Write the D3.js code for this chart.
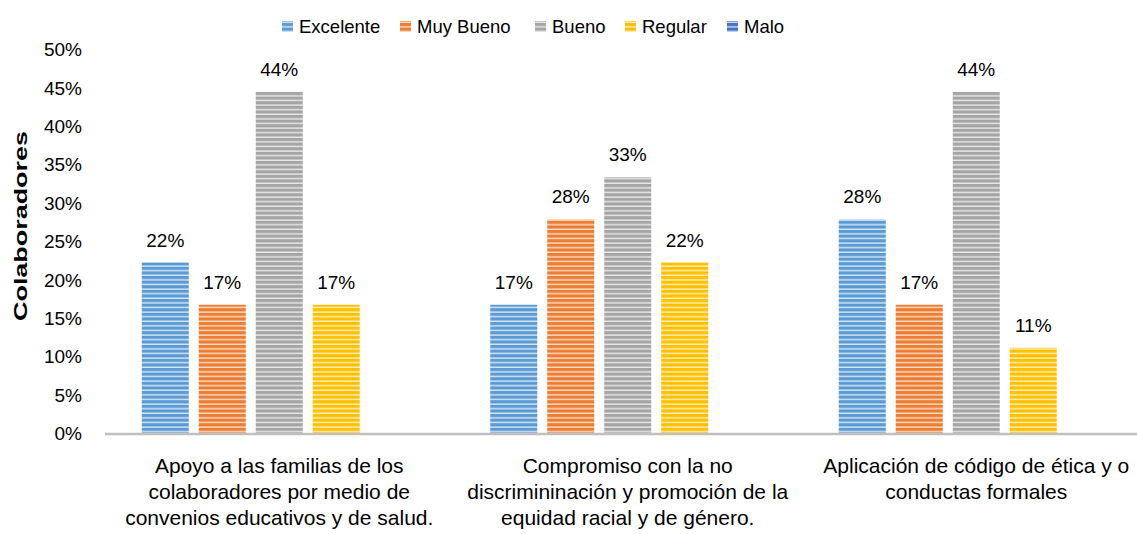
<!DOCTYPE html>
<html>
<head>
<meta charset="utf-8">
<script src="https://cdn.jsdelivr.net/npm/d3@7"></script>
<style>
  body { margin: 0; background: #fff; }
  text { font-family: "Liberation Sans", Arial, sans-serif; fill: #000; }
</style>
</head>
<body>
<div id="chart"></div>
<script>
// Data
var categories = [
  ["Apoyo a las familias de los", "colaboradores por medio de", "convenios educativos y de salud."],
  ["Compromiso con la no", "discrimininación y promoción de la", "equidad racial y de género."],
  ["Aplicación de código de ética y o", "conductas formales"]
];
var seriesNames = ["Excelente", "Muy Bueno", "Bueno", "Regular", "Malo"];
var excelente = [22.2, 16.7, 27.8];
var muyBueno = [16.7, 27.8, 16.7];
var bueno = [44.4, 33.3, 44.4];
var regular = [16.7, 22.2, 11.1];
var malo = [0, 0, 0];
var yTicks = [0, 5, 10, 15, 20, 25, 30, 35, 40, 45, 50];

var colors = ["#5B9BD5", "#ED7D31", "#A5A5A5", "#FFC000", "#4472C4"];
var seriesValues = [excelente, muyBueno, bueno, regular, malo];

var svgWidth = 1137;
var svgHeight = 534;

var svg = d3.select("#chart")
  .append("svg")
  .attr("width", svgWidth)
  .attr("height", svgHeight);

// striped fills
var defs = svg.append("defs");
colors.forEach(function (c, i) {
  var p = defs.append("pattern")
    .attr("id", "stripe" + i)
    .attr("patternUnits", "userSpaceOnUse")
    .attr("width", 8)
    .attr("height", 4.6);
  p.append("rect").attr("width", 8).attr("height", 4.6).attr("fill", c);
  p.append("rect").attr("y", 3.2).attr("width", 8).attr("height", 1.4)
    .attr("fill", "#fff").attr("opacity", 0.75);
});

// Scales
var x0 = d3.scaleBand()
  .domain(d3.range(categories.length))
  .range([105, 1150.5])
  .padding(0);

var x1 = d3.scaleBand()
  .domain(seriesNames)
  .range([0, x0.bandwidth()])
  .paddingInner(0.175)
  .paddingOuter(0.645);

var y = d3.scaleLinear()
  .domain([0, 50])
  .range([433, 49]);

// Y axis labels
var yAxis = d3.axisLeft(y)
  .tickValues(yTicks)
  .tickFormat(function (d) { return d + "%"; })
  .tickSize(0)
  .tickPadding(0);

var yg = svg.append("g")
  .attr("transform", "translate(82,0)")
  .call(yAxis);
yg.select(".domain").remove();
yg.selectAll("text")
  .attr("font-family", "Liberation Sans, Arial, sans-serif")
  .attr("font-size", "19px")
  .attr("fill", "#000")
  .attr("dy", "0.35em");

// Y title
svg.append("text")
  .attr("transform", "translate(27,226) rotate(-90)")
  .attr("text-anchor", "middle")
  .attr("font-weight", "bold")
  .attr("font-size", "19px")
  .attr("textLength", 190)
  .attr("lengthAdjust", "spacingAndGlyphs")
  .text("Colaboradores");

// Bars
var groups = svg.selectAll("g.group")
  .data(categories)
  .enter()
  .append("g")
  .attr("class", "group")
  .attr("transform", function (d, i) { return "translate(" + x0(i) + ",0)"; });

groups.each(function (cat, ci) {
  var g = d3.select(this);
  seriesNames.forEach(function (s, si) {
    var v = seriesValues[si][ci];
    if (v <= 0) return;
    g.append("rect")
      .attr("x", x1(s))
      .attr("y", y(v))
      .attr("width", x1.bandwidth())
      .attr("height", y(0) - y(v))
      .attr("fill", "url(#stripe" + si + ")");
    g.append("text")
      .attr("x", x1(s) + x1.bandwidth() / 2)
      .attr("y", y(v) - 16)
      .attr("text-anchor", "middle")
      .attr("font-size", "19px")
      .text(Math.round(v) + "%");
  });
});

// X axis line
svg.append("line")
  .attr("x1", 105)
  .attr("x2", 1150)
  .attr("y1", y(0) + 1)
  .attr("y2", y(0) + 1)
  .attr("stroke", "#BFBFBF")
  .attr("stroke-width", 2.5);

// Category labels
groups.each(function (lines, ci) {
  var t = d3.select(this).append("text")
    .attr("text-anchor", "middle")
    .attr("font-size", "21px");
  lines.forEach(function (line, li) {
    t.append("tspan")
      .attr("x", x0.bandwidth() / 2)
      .attr("y", 473 + li * 26)
      .text(line);
  });
});

// Legend
var legendX = [282, 400, 535, 625, 727];
var legend = svg.append("g");
seriesNames.forEach(function (s, i) {
  legend.append("rect")
    .attr("x", legendX[i])
    .attr("y", 21)
    .attr("width", 11)
    .attr("height", 11)
    .attr("fill", "url(#stripe" + i + ")");
  legend.append("text")
    .attr("x", legendX[i] + 17)
    .attr("y", 33)
    .attr("font-size", "18.5px")
    .text(s);
});
</script>
</body>
</html>
